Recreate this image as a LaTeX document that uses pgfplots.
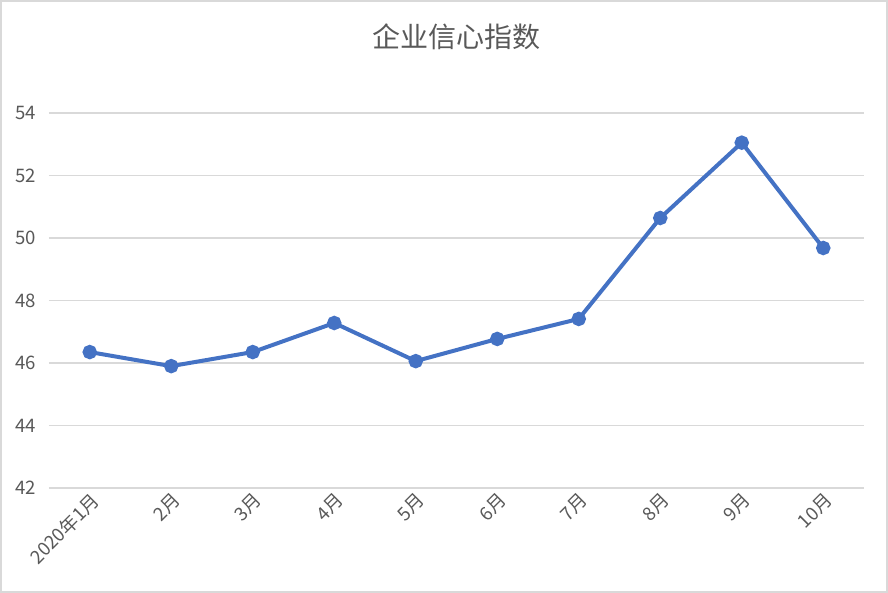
\documentclass[border=0pt]{standalone}
\usepackage{fontspec}
\setmainfont{Noto Sans CJK SC}
\usepackage{pgfplots}
\pgfplotsset{compat=1.18}
\definecolor{txt}{HTML}{595959}
\definecolor{grd}{HTML}{D9D9D9}
\definecolor{ser}{HTML}{4472C4}
\begin{document}
\begin{tikzpicture}
\begin{axis}[
  scale only axis,
  width=407.5pt, height=187.5pt,
  xmin=-0.5, xmax=9.5, ymin=42, ymax=54,
  ytick={42,44,...,54},
  xtick={0,...,9},
  xticklabels={2020年1月,2月,3月,4月,5月,6月,7月,8月,9月,10月},
  x tick label style={rotate=45, anchor=north east, font=\fontsize{9.3}{10}\selectfont, text=txt, inner sep=1pt},
  y tick label style={font=\fontsize{9.3}{10}\selectfont, text=txt, xshift=-3pt},
  /pgf/number format/assume math mode=true,
  axis line style={draw=none},
  major tick length=0pt,
  ymajorgrids, grid style={grd, line width=0.6pt},
  clip=false,
  title={企业信心指数},
  title style={font=\fontsize{14}{16}\selectfont, text=txt, at={(rel axis cs:0.5,1)}, yshift=22pt, anchor=south},
]
\draw[grd, line width=1pt] ([xshift=-24pt,yshift=-52pt]rel axis cs:0,0) rectangle ++(443pt,295.5pt);
\addplot[ser, line width=2pt, mark=*, mark size=2.6pt, mark options={fill=ser, draw=ser}] coordinates {
(0,46.35) (1,45.9) (2,46.35) (3,47.28) (4,46.06) (5,46.77) (6,47.41) (7,50.64) (8,53.05) (9,49.68)
};
\end{axis}
\end{tikzpicture}
\end{document}
